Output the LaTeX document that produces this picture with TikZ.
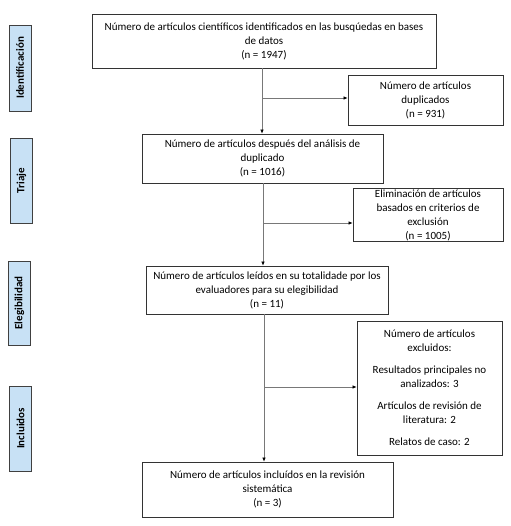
\documentclass[tikz,border=0pt]{standalone}
\usepackage{fontspec}
\setmainfont{Carlito}
\usetikzlibrary{arrows.meta}
\definecolor{phase}{RGB}{200,225,245}
\definecolor{linegray}{RGB}{120,120,120}
\begin{document}
\begin{tikzpicture}[x=1pt,y=-1pt,
  box/.style={draw=black!80,line width=0.8pt,align=center,inner sep=1pt,
    font=\fontsize{11}{14}\selectfont},
  phaselabel/.style={draw=black!75,line width=0.8pt,fill=phase,rotate=90,
    minimum height=22pt,inner sep=0pt,font=\bfseries\fontsize{11}{13}\selectfont},
  conn/.style={draw=linegray,line width=0.6pt,-{Latex[length=4pt,width=3.5pt,black]}}]
\useasboundingbox (0,0) rectangle (510,526);
\fill[white] (0,0) rectangle (510,526);
% phase labels
\node[phaselabel,minimum width=86pt] (pid) at (20,68) {Identificación};
\node[phaselabel,minimum width=85pt] (ptr) at (21.5,180.5) {Triaje};
\node[phaselabel,minimum width=84pt] (pel) at (19.5,303) {Elegibilidad};
\node[phaselabel,minimum width=85pt] (pin) at (20.5,428.5) {Incluidos};
% main boxes
\node[box,minimum width=344pt,minimum height=54pt] (b1) at (264,41)
  {Número de artículos científicos identificados en las busqúedas en bases\\de datos\\(n = 1947)};
\node[box,minimum width=155pt,minimum height=50pt] (dup) at (425.5,100)
  {Número de artículos\\duplicados\\(n = 931)};
\node[box,minimum width=241pt,minimum height=49pt] (b2) at (262.5,158.5)
  {Número de artículos después del análisis de\\duplicado\\(n = 1016)};
\node[box,minimum width=150pt,minimum height=46pt] (exc) at (428,215)
  {Eliminación de artículos\\basados en criterios de\\exclusión\\(n = 1005)};
\node[box,minimum width=242pt,minimum height=48pt] (b3) at (267,290)
  {Número de artículos leídos en su totalidade por los\\evaluadores para su elegibilidad\\(n = 11)};
\node[box,minimum width=145pt,minimum height=134pt] (exc2) at (429.5,388)
  {Número de artículos\\excluidos:\\[8pt]Resultados principales no\\analizados: 3\\[8pt]Artículos de revisión de\\literatura: 2\\[8pt]Relatos de caso: 2};
\node[box,minimum width=251pt,minimum height=55pt] (b4) at (267.5,489.5)
  {Número de artículos incluídos en la revisión\\sistemática\\(n = 3)};
% junction coordinates on the vertical lines
\coordinate (j1) at (262,98);
\coordinate (j2) at (263,223);
\coordinate (j3) at (264,387);
% connectors
\draw[conn] (b1.south -| j1) -- (b2.north -| j1);
\draw[conn] (j1) -- (j1 -| dup.west);
\draw[conn] (b2.south -| j2) -- (b3.north -| j2);
\draw[conn] (j2) -- (j2 -| exc.west);
\draw[conn] (b3.south -| j3) -- (b4.north -| j3);
\draw[conn] (j3) -- (j3 -| exc2.west);
\end{tikzpicture}
\end{document}
